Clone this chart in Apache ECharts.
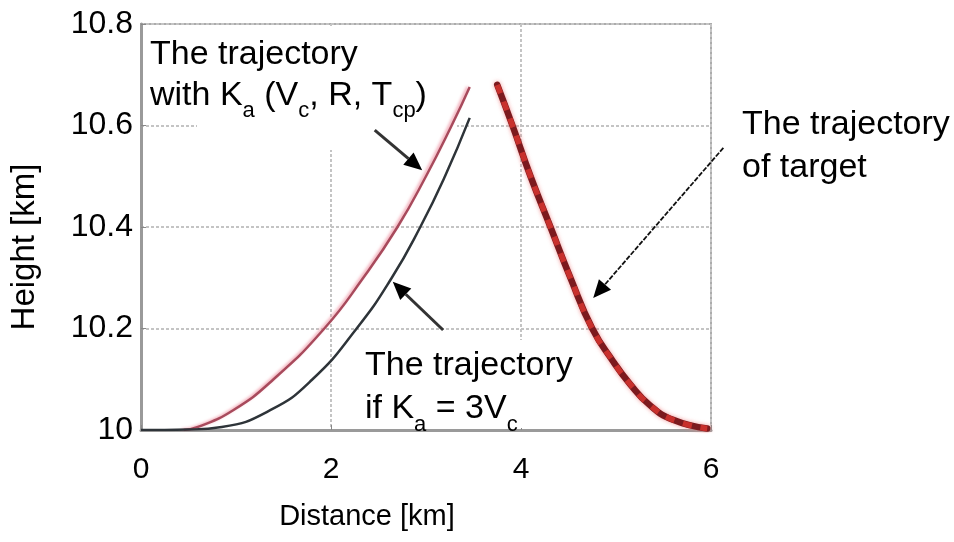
<!DOCTYPE html>
<html>
<head>
<meta charset="utf-8">
<script src="https://cdn.jsdelivr.net/npm/echarts@6/dist/echarts.min.js"></script>
<style>
  html, body { margin: 0; padding: 0; background: #fff; }
  #chart { width: 954px; height: 542px; }
</style>
</head>
<body>
<div id="chart"></div>
<script>
// trayectoria con Ka(Vc, R, Tcp)
const kaDist   = [0.45, 0.6, 0.97, 1.39, 1.93, 2.34, 2.70, 3.00, 3.27, 3.46];
const kaHeight = [10.0, 10.006, 10.039, 10.099, 10.2, 10.3, 10.4, 10.5, 10.6, 10.676];

// trayectoria si Ka = 3Vc
const baseDist   = [0.0, 0.5, 0.85, 1.36, 1.80, 2.27, 2.64, 2.94, 3.20, 3.46];
const baseHeight = [10.0, 10.001, 10.006, 10.039, 10.099, 10.2, 10.3, 10.4, 10.5, 10.615];

// trayectoria del blanco
const targetDist   = [3.75, 3.91, 4.10, 4.31, 4.52, 4.75, 4.97, 5.15, 5.35, 5.60, 5.96];
const targetHeight = [10.68, 10.6, 10.5, 10.4, 10.3, 10.2, 10.135, 10.09, 10.05, 10.02, 10.003];

// flechas de anotacion [desde, hasta] en km
const arrowKa     = [[2.46, 10.591], [2.96, 10.512]];
const arrowBase   = [[3.18, 10.197], [2.65, 10.292]];
const arrowTarget = [[6.13, 10.556], [4.76, 10.26]];

const FONT = '"Liberation Sans", Arial, sans-serif';
const zip = (xs, ys) => xs.map((x, i) => [x, ys[i]]);

const chart = document.getElementById('chart');
const myChart = echarts.init(chart);

const option = {
  animation: false,
  backgroundColor: '#fff',
  grid: {
    left: 141, right: 243, top: 24, bottom: 112,
    show: true, borderColor: '#ababab', borderWidth: 2
  },
  xAxis: {
    type: 'value', min: 0, max: 6, interval: 2,
    name: 'Distance [km]', nameLocation: 'middle', nameGap: 72,
    nameTextStyle: { fontSize: 29, color: '#000', fontFamily: FONT, padding: [0, 118, 0, 0] },
    axisLine: { show: true, onZero: false, lineStyle: { color: '#9a9a9a', width: 3 } },
    axisTick: { show: true, inside: true, length: 5, lineStyle: { color: '#888' } },
    axisLabel: { fontSize: 30, color: '#000', fontFamily: FONT, margin: 25 },
    splitLine: { show: true, lineStyle: { color: '#c4c4c4', width: 2, type: [3, 2] } }
  },
  yAxis: {
    type: 'value', min: 10, max: 10.8, interval: 0.2,
    name: 'Height [km]', nameLocation: 'middle', nameGap: 100,
    nameTextStyle: { fontSize: 33, color: '#000', fontFamily: FONT, padding: [0, 40, 0, 0] },
    axisLine: { show: true, lineStyle: { color: '#9a9a9a', width: 3 } },
    axisTick: { show: true, inside: true, length: 5, lineStyle: { color: '#888' } },
    axisLabel: { fontSize: 32, color: '#000', fontFamily: FONT, margin: 8,
      formatter: v => String(+v.toFixed(1)) },
    splitLine: { show: true, lineStyle: { color: '#c4c4c4', width: 2, type: [3, 2] } }
  },
  series: [
    {
      name: 'Ka', type: 'line', data: zip(kaDist, kaHeight), smooth: 0.5,
      showSymbol: false, z: 3,
      lineStyle: { color: '#a84a5c', width: 2.5, shadowColor: 'rgba(240,150,165,0.9)', shadowBlur: 3, shadowOffsetX: -2 }
    },
    {
      name: 'Ka = 3Vc', type: 'line', data: zip(baseDist, baseHeight), smooth: 0.5,
      showSymbol: false, z: 3,
      lineStyle: { color: '#2e3439', width: 2.5 }
    },
    {
      name: 'target', type: 'line', data: zip(targetDist, targetHeight), smooth: 0.5,
      showSymbol: false, z: 3,
      lineStyle: { color: '#7c1a1e', width: 6.5, cap: 'round', shadowColor: 'rgba(240,130,130,0.8)', shadowBlur: 4 }
    },
    {
      name: 'target-dash', type: 'line', data: zip(targetDist, targetHeight), smooth: 0.5,
      showSymbol: false, z: 4,
      lineStyle: { color: '#c8302c', width: 5.5, type: [9, 9] }
    }
  ]
};

myChart.setOption(option);

// flecha: linea + cabeza triangular
function arrow(pair, opt) {
  const p0 = myChart.convertToPixel({ gridIndex: 0 }, pair[0]);
  const p1 = myChart.convertToPixel({ gridIndex: 0 }, pair[1]);
  const dx = p1[0] - p0[0], dy = p1[1] - p0[1];
  const len = Math.hypot(dx, dy);
  const ux = dx / len, uy = dy / len;
  const bx = p1[0] - ux * opt.head, by = p1[1] - uy * opt.head;
  const nx = -uy * opt.half, ny = ux * opt.half;
  return [
    { type: 'line', z: 100, shape: { x1: p0[0], y1: p0[1], x2: bx, y2: by },
      style: { stroke: opt.color, lineWidth: opt.width, lineDash: opt.dash || null } },
    { type: 'polygon', z: 100, shape: { points: [[p1[0], p1[1]], [bx + nx, by + ny], [bx - nx, by - ny]] },
      style: { fill: '#000' } }
  ];
}

// subindice: alineado abajo y desplazado con padding inferior negativo
const rich = {
  sub: { fontSize: 22, fontFamily: FONT, fill: '#000', verticalAlign: 'bottom', padding: [0, 0, -6, 0] }
};

function label(x, y, text, lh) {
  return {
    type: 'text', x: x, y: y, z: 90,
    style: { text: text, fontSize: 34, fontFamily: FONT, fill: '#000', lineHeight: lh, rich: rich }
  };
}

// fondo blanco de los recuadros de texto (tapa la reticula, no las curvas)
function box(x, y, w, h) {
  return { type: 'rect', z: 1, shape: { x: x, y: y, width: w, height: h }, style: { fill: '#fff' } };
}

myChart.setOption({
  graphic: [
    box(197, 26, 260, 124),
    box(360, 340, 220, 88),
    label(150, 34, 'The trajectory\nwith K{sub|a} (V{sub|c}, R, T{sub|cp})', 41),
    label(365, 344, 'The trajectory\nif K{sub|a} = 3V{sub|c}', 43),
    label(742, 103, 'The trajectory\nof target', 43),
    ...arrow(arrowKa, { color: '#333', width: 3, head: 18, half: 8 }),
    ...arrow(arrowBase, { color: '#333', width: 3, head: 18, half: 8 }),
    ...arrow(arrowTarget, { color: '#111', width: 1.8, head: 18, half: 8, dash: [5, 1.5] })
  ]
});

window.addEventListener('resize', () => myChart && myChart.resize());
</script>
</body>
</html>
